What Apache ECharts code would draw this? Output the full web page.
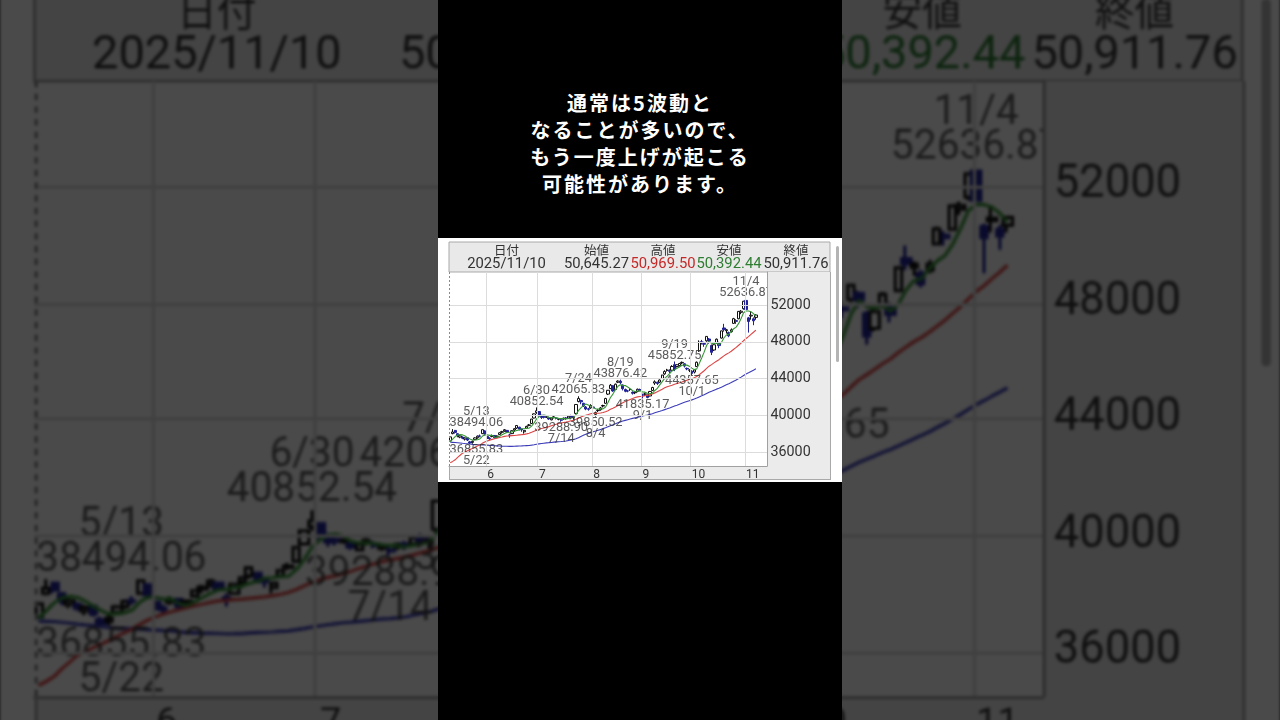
<!DOCTYPE html>
<html><head><meta charset="utf-8">
<script src="https://cdn.jsdelivr.net/npm/echarts@6.0.0/dist/echarts.min.js"></script>
<style>
html,body{margin:0;padding:0;width:1280px;height:720px;overflow:hidden;background:#000;}
#bgwrap{position:absolute;left:438px;top:238px;width:404px;height:244px;transform:scale(3.17);transform-origin:202px 122px;filter:brightness(0.29) blur(0.45px);}
#bg,#fg{width:404px;height:244px;background:#fff;}
#strip{position:absolute;left:438px;top:0;width:404px;height:720px;background:#000;}
#fgwrap{position:absolute;left:438px;top:238px;width:404px;height:244px;}
#caption{position:absolute;left:438px;top:89px;width:404px;text-align:center;color:#fff;font-family:"Noto Sans CJK JP",sans-serif;font-weight:700;font-size:20px;line-height:27px;letter-spacing:2px;}
</style></head><body>
<div id="bgwrap"><div id="bg"></div></div>
<div id="strip"></div>
<div id="caption">通常は5波動と<br>なることが多いので、<br>もう一度上げが起こる<br>可能性があります。</div>
<div id="fgwrap"><div id="fg"></div></div>
<script>
// ---------- data ----------
const dates = ['5/12','5/13','5/14','5/15','5/16','5/19','5/20','5/21','5/22','5/23','5/26','5/27','5/28','5/29','5/30',
'6/2','6/3','6/4','6/5','6/6','6/9','6/10','6/11','6/12','6/13','6/16','6/17','6/18','6/19','6/20','6/23','6/24','6/25','6/26','6/27','6/30',
'7/1','7/2','7/3','7/4','7/7','7/8','7/9','7/10','7/11','7/14','7/15','7/16','7/17','7/18','7/22','7/23','7/24','7/25','7/28','7/29','7/30','7/31',
'8/1','8/4','8/5','8/6','8/7','8/8','8/12','8/13','8/14','8/15','8/18','8/19','8/20','8/21','8/22','8/25','8/26','8/27','8/28','8/29',
'9/1','9/2','9/3','9/4','9/5','9/8','9/9','9/10','9/11','9/12','9/16','9/17','9/18','9/19','9/22','9/24','9/25','9/26','9/29','9/30',
'10/1','10/2','10/3','10/6','10/7','10/8','10/9','10/10','10/14','10/15','10/16','10/17','10/20','10/21','10/22','10/23','10/24','10/27','10/28','10/29','10/30','10/31',
'11/4','11/5','11/6','11/7','11/10'];
const futureDates = ['11/11','11/12','11/13','11/14'];

const openP = [37200,38000,38350,37990,37620,37620,37400,37550,37100,37050,37350,37550,37750,38000,38300,
37700,37500,37700,37800,37650,37900,38150,38300,38350,37850,38000,38400,38600,38700,38500,38200,38600,38900,39100,39700,40300,
40400,39950,39850,39800,39700,39500,39800,39700,39550,39500,39600,39700,39700,39950,39750,40200,41500,41600,41300,40900,40700,40800,
40900,40100,40500,40600,41000,41300,42300,42900,43200,42800,43600,43700,43300,42800,42650,42800,42500,42450,42600,42800,
42200,42300,42200,42100,42700,43500,43600,43600,44000,44500,44900,44850,44900,45500,45300,45400,45700,45600,45100,44900,
44800,44700,45300,47000,48000,47800,48100,48300,47600,47100,47900,47900,48400,49500,49200,49000,49100,50000,50300,50500,51200,51600,
52500,50600,50800,50500,50645.27];
const closeP = [37644.26,38183.26,38128.13,37755.51,37753.72,37498.63,37529.49,37298.98,36985.87,37160.47,37531.53,37724.11,37722.40,38432.98,37965.10,
37470.67,37446.81,37747.45,37554.49,37741.61,38088.57,38211.51,38421.19,38173.09,37834.25,38311.33,38536.74,38885.15,38488.34,38403.23,38354.09,38790.56,38942.07,39584.58,40150.79,40487.39,
39986.33,39762.48,39785.90,39810.88,39587.68,39688.81,39821.28,39646.36,39569.68,39459.62,39678.02,39663.40,39901.19,39819.11,39774.92,41171.32,41826.34,41456.23,40998.27,40674.55,40654.70,41069.82,
40799.60,40290.70,40549.54,40794.86,41059.15,41820.48,42718.17,43274.67,42649.26,43378.31,43714.31,43546.29,42888.55,42610.17,42633.29,42807.82,42394.40,42520.27,42828.79,42718.47,
42188.79,42310.49,41938.89,42580.27,43018.75,43643.81,43459.29,43837.67,44372.50,44768.12,44902.27,44790.38,45303.43,45045.81,45493.66,45630.31,45754.93,45354.99,45043.75,44932.63,
44550.85,44936.73,45769.50,47944.76,47950.88,47734.99,48580.44,48088.80,46847.32,47672.67,48277.74,47582.15,49185.50,49316.06,49307.79,48641.61,49299.65,50512.32,50219.18,51307.65,51325.61,52411.34,
51497.20,50212.27,50883.68,50276.37,50911.76];
const lowP = [37170,37930,38000,37600,37500,37400,37250,37200,36855.83,36900,37300,37450,37600,37950,37800,
37300,37300,37600,37450,37550,37850,38000,38200,38100,37550,37950,38200,38500,38350,38200,38000,38550,38800,39050,39650,40150,
39850,39600,39650,39700,39500,39450,39650,39550,39450,39288.90,39500,39500,39650,39750,39500,40100,41400,41200,40900,40550,40500,40700,
40600,39850.52,40350,40500,40850,41250,42200,42850,42550,42750,43500,43400,42700,42500,42500,42650,42250,42300,42500,42600,
41835.17,42100,41850,42050,42650,43300,43300,43500,43950,44400,44750,44600,44850,44800,45200,45300,45550,45200,44900,44700,
44357.65,44550,45250,46900,47700,47450,48000,47800,46550,47000,47800,47300,48350,49100,48900,48500,49000,49950,49950,50450,51000,51500,
51300,49000,50400,49800,50392.44];
const highP = [37700,38494.06,38400,38050,37850,37700,37600,37600,37200,37250,37600,37800,37900,38450,38350,
37750,37600,37900,37850,37800,38150,38300,38500,38400,38000,38350,38600,38900,38750,38550,38400,38850,39050,39600,40200,40852.54,
40450,40050,39950,39900,39750,39750,39900,39800,39700,39600,39750,39800,39950,40050,39900,41200,42065.83,41700,41350,41000,40800,41200,
41000,40400,40650,40900,41150,41900,42750,43400,43250,43450,43800,43876.42,43350,42900,42750,42950,42600,42600,42900,42900,
42350,42450,42250,42650,43100,43800,43650,43900,44400,44900,45050,45000,45450,45852.75,45550,45700,45850,45650,45200,45000,
44900,45000,45850,48150,48200,48000,48600,48400,47700,47750,48350,48000,49200,49950,49400,49100,49450,50600,50450,51350,51450,52450,
52636.87,50700,51300,50650,50969.50];

const ma5 = [37137,37408,37677,37843,37893,37864,37733,37567,37413,37295,37301,37340,37425,37714,37875,
37863,37808,37813,37637,37592,37716,37869,38004,38127,38146,38190,38255,38348,38411,38525,38533,38584,38596,38815,39165,39591,
39830,39994,40034,39966,39787,39727,39739,39711,39663,39637,39635,39603,39654,39704,39767,40066,40498,40809,41045,41225,41122,40971,
40840,40698,40673,40701,40699,40903,41388,41933,42304,42768,43147,43312,43235,43227,43078,42897,42667,42593,42637,42654,
42530,42513,42397,42347,42407,42698,42928,43308,43667,44016,44268,44534,44827,44962,45107,45253,45446,45456,45456,45343,
45128,44964,45047,45627,46231,46868,47596,48060,47840,47785,47893,47694,47913,48407,48734,48807,49150,49416,49596,49996,50533,51155,
51352,51351,51266,51056,50756];
const ma25 = [34840,34977,35151,35416,35646,35877,35994,36142,36263,36378,36523,36657,36776,36942,37092,
37196,37293,37374,37443,37511,37576,37631,37697,37747,37760,37787,37801,37831,37861,37887,37921,37971,38037,38141,38261,38379,
38469,38551,38605,38679,38763,38853,38936,39020,39093,39148,39206,39256,39325,39405,39463,39568,39686,39805,39909,40001,40076,40161,
40210,40215,40218,40250,40302,40383,40500,40647,40766,40908,41071,41230,41367,41484,41603,41719,41822,41932,41998,42034,
42063,42116,42166,42243,42321,42435,42562,42693,42836,42985,43108,43191,43272,43368,43453,43529,43618,43716,43814,43906,
43975,44077,44207,44412,44621,44843,45094,45340,45510,45696,45882,46047,46261,46458,46640,46790,46970,47178,47385,47618,47846,48112,
48358,48564,48802,49031,49270];
const ma75 = [37055,37046,37034,37008,36979,36946,36919,36896,36864,36832,36805,36795,36780,36775,36760,
36743,36725,36708,36683,36664,36650,36636,36632,36625,36613,36614,36619,36641,36659,36667,36680,36699,36715,36751,36793,36842,
36884,36924,36960,36993,37016,37042,37070,37098,37118,37137,37162,37196,37253,37309,37363,37449,37556,37694,37814,37933,38014,38114,
38204,38285,38373,38459,38543,38644,38757,38869,38970,39073,39178,39278,39364,39441,39519,39597,39662,39727,39789,39850,
39910,39970,40030,40097,40173,40262,40346,40430,40519,40613,40699,40790,40894,40996,41099,41207,41313,41410,41501,41588,
41673,41768,41867,41993,42114,42237,42373,42503,42610,42726,42842,42941,43057,43182,43309,43427,43554,43699,43840,43993,44149,44320,
44480,44621,44770,44909,45057];

const yTicks = [36000,40000,44000,48000,52000];
const annDates = ['5/13','5/22','6/30','7/14','7/24','8/4','8/19','9/1','9/19','10/1','11/4'];
const annValues = [38494.06,36855.83,40852.54,39288.90,42065.83,39850.52,43876.42,41835.17,45852.75,44357.65,52636.87];
const annKinds = ['high','low','high','low','high','low','high','low','high','low','high'];
const headerLabels = ['日付','始値','高値','安値','終値'];
const headerValues = ['2025/11/10','50,645.27','50,969.50','50,392.44','50,911.76'];

// ---------- layout / style ----------
const FONT = 'Roboto, "Noto Sans CJK JP", sans-serif';
const W = 404, H = 244;
const G = {left: 11, top: 34, right: 329, bottom: 228};
const headerCols = [68.5, 158.5, 225, 291, 358];
const headerColors = ['#333', '#333', '#c62828', '#2e7d32', '#333'];
const cats = dates.concat(futureDates);
function monthOf(s){ return s.split('/')[0]; }
function isMonthStart(i){ return i > 0 && i < dates.length && monthOf(cats[i]) !== monthOf(cats[i-1]); }

function buildOption(){
  const kdata = dates.map((d,i)=>[openP[i], closeP[i], lowP[i], highP[i]]);
  const ann = annDates.map((d,i)=>{
    const v = annValues[i].toFixed(2);
    const hi = annKinds[i] === 'high';
    return {value:[d, annValues[i]], label:{position: hi ? 'top' : 'bottom', formatter: hi ? (d + '\n' + v) : (v + '\n' + d)}};
  });
  const graphic = [];
  graphic.push({type:'rect', z:5, shape:{x:G.left, y:4, width:W-12-G.left, height:G.top-4}, style:{fill:'#e9e9e9', stroke:'#a9a9a9', lineWidth:1}});
  headerLabels.forEach((t,i)=>{
    graphic.push({type:'text', z:6, style:{text:t, x:headerCols[i], y:13.5, align:'center', verticalAlign:'middle', fontSize:12.5, fontFamily:FONT, fill:'#333'}});
    graphic.push({type:'text', z:6, style:{text:headerValues[i], x:headerCols[i], y:26.5, align:'center', verticalAlign:'middle', fontSize:14.8, fontFamily:FONT, fill:headerColors[i]}});
  });
  graphic.push({type:'rect', z:5, shape:{x:G.right, y:G.top, width:W-12-G.right, height:G.bottom-G.top}, style:{fill:'#ebebeb'}});
  graphic.push({type:'rect', z:5, shape:{x:G.left, y:G.bottom, width:W-12-G.left, height:H-2-G.bottom}, style:{fill:'#ebebeb'}});
  graphic.push({type:'line', z:20, shape:{x1:G.left+0.5, y1:G.top, x2:G.left+0.5, y2:G.bottom}, style:{stroke:'#8a8a8a', lineWidth:1, lineDash:[2,2]}});
  graphic.push({type:'line', z:20, shape:{x1:G.left+0.5, y1:G.bottom, x2:G.left+0.5, y2:H-2}, style:{stroke:'#a9a9a9', lineWidth:1}});
  graphic.push({type:'line', z:20, shape:{x1:W-11.5, y1:G.top, x2:W-11.5, y2:H-2}, style:{stroke:'#a9a9a9', lineWidth:1}});
  graphic.push({type:'line', z:20, shape:{x1:G.left, y1:H-2.5, x2:W-11, y2:H-2.5}, style:{stroke:'#a9a9a9', lineWidth:1}});
  graphic.push({type:'rect', z:20, shape:{x:W-6, y:8, width:3, height:116, r:1.5}, style:{fill:'#b4b4b4'}});

  return {
    animation:false,
    textStyle:{fontFamily:FONT},
    grid:{left:G.left, top:G.top, right:W-G.right, bottom:H-G.bottom},
    xAxis:{type:'category', data:cats, boundaryGap:true, z:10,
      axisLine:{show:true, lineStyle:{color:'#a0a0a0'}},
      axisTick:{show:false},
      axisLabel:{interval:(i)=>isMonthStart(i), formatter:(v)=>monthOf(v), align:'left', margin:3, fontSize:12, color:'#333', fontFamily:FONT},
      splitLine:{show:true, interval:(i)=>isMonthStart(i), lineStyle:{color:'#dcdcdc', width:1}}
    },
    yAxis:{type:'value', position:'right', min:34476, max:55592, z:10,
      axisLine:{show:true, lineStyle:{color:'#a0a0a0'}},
      axisTick:{show:false, customValues:yTicks},
      axisLabel:{customValues:yTicks, formatter:(v)=>String(Math.round(v)), align:'left', margin:3.5, fontSize:14.3, color:'#333', fontFamily:FONT},
      splitLine:{show:true, lineStyle:{color:'#dcdcdc', width:1}}
    },
    graphic:graphic,
    series:[
      {type:'candlestick', data:kdata, barWidth:2.8, z:2, silent:true,
        itemStyle:{color:'#ffffff', color0:'#22229a', borderColor:'#111111', borderColor0:'#22229a', borderWidth:1}},
      {type:'line', data:ma75, symbol:'none', z:3, silent:true, lineStyle:{color:'#3c3cb8', width:1.1}},
      {type:'line', data:ma25, symbol:'none', z:3, silent:true, lineStyle:{color:'#dd4444', width:1.1}},
      {type:'line', data:ma5, symbol:'none', z:3, silent:true, lineStyle:{color:'#379637', width:1.1}},
      {type:'scatter', data:ann, symbolSize:1, z:4, silent:true, itemStyle:{color:'rgba(0,0,0,0)'},
        label:{show:true, distance:0, fontSize:12.8, lineHeight:11, color:'#333', fontFamily:FONT, align:'center'},
        labelLayout:function(p){
          const r = p.labelRect;
          if (r.x < G.left) {
            return {x: G.left + r.width/2 + 0.5, y: r.y + r.height/2, align:'center', verticalAlign:'middle'};
          }
          return {};
        }
      }
    ]
  };
}
const fg = echarts.init(document.getElementById('fg'), null, {renderer:'canvas', width:W, height:H});
fg.setOption(buildOption());
const bg = echarts.init(document.getElementById('bg'), null, {renderer:'canvas', width:W, height:H, devicePixelRatio:2});
bg.setOption(buildOption());
</script>
</body></html>
